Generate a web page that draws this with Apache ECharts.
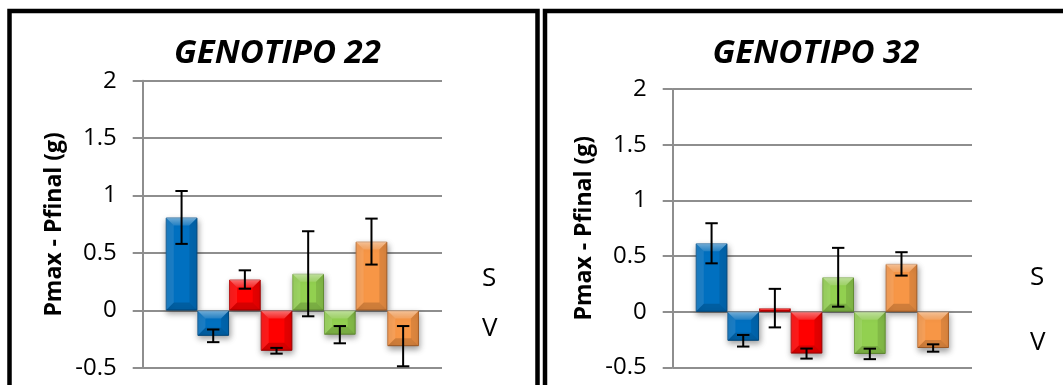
<!DOCTYPE html>
<html>
<head>
<meta charset="utf-8">
<script src="https://cdn.jsdelivr.net/npm/echarts@6/dist/echarts.min.js"></script>
<style>
  html, body { margin: 0; padding: 0; background: #fff; }
  #chart { width: 1063px; height: 385px; }
</style>
</head>
<body>
<div id="chart"></div>
<script>
// Weight loss (Pmax - Pfinal) per treatment, S and V bars side by side for each colour group
const panelTitles = ['GENOTIPO 22', 'GENOTIPO 32'];
const barNames = ['S', 'V', 'S', 'V', 'S', 'V', 'S', 'V'];
const legendNames = ['S', 'V'];

const g22Values = [0.81, -0.22, 0.27, -0.35, 0.32, -0.21, 0.60, -0.31];
const g22Errors = [0.23, 0.055, 0.08, 0.025, 0.37, 0.075, 0.20, 0.175];

const g32Values = [0.615, -0.26, 0.033, -0.375, 0.31, -0.378, 0.43, -0.325];
const g32Errors = [0.18, 0.052, 0.173, 0.045, 0.264, 0.047, 0.105, 0.033];

const yMin = -0.5, yMax = 2, yStep = 0.5;
const yAxisTitle = 'Pmax - Pfinal (g)';

// Office-style fills, one per pair of bars
const fills = ['#0070C0', '#FF0000', '#92D050', '#F79646'];
const edges = ['#00508c', '#b00000', '#6e9e38', '#b8692c'];

const FONT = '"Open Sans", "Noto Sans", sans-serif';
const CAT_GAP = 0.154;

const panels = [
  { values: g22Values, errors: g22Errors, grid: { left: 142.7, top: 80.7, width: 299.3, height: 287.3 },
    titleX: 272.5, legend: { left: 472, top: 259, gap: 20 } },
  { values: g32Values, errors: g32Errors, grid: { left: 672.7, top: 89, width: 299.3, height: 278.5 },
    titleX: 811, legend: { left: 1020, top: 258, gap: 35 } }
];

const chart = echarts.init(document.getElementById('chart'), null, { renderer: 'canvas' });

const grids = [], xAxes = [], yAxes = [], titles = [], legends = [], series = [];

panels.forEach((p, pi) => {
  grids.push(Object.assign({ containLabel: false }, p.grid));
  xAxes.push({ type: 'category', gridIndex: pi, data: [panelTitles[pi]], show: false });
  yAxes.push({
    type: 'value', gridIndex: pi, min: yMin, max: yMax, interval: yStep,
    name: yAxisTitle, nameLocation: 'middle', nameGap: 77, nameRotate: 90,
    nameTextStyle: { fontFamily: FONT, fontSize: 23, fontWeight: 'bold', color: '#000' },
    axisLine: { show: true, lineStyle: { color: '#8e8e8e', width: 2 } },
    axisTick: { show: true, inside: false, length: 10, lineStyle: { color: '#8e8e8e', width: 2 } },
    axisLabel: { margin: 26, fontFamily: FONT, fontSize: 24, color: '#000' },
    splitLine: { show: true, lineStyle: { color: '#8e8e8e', width: 2 } }
  });
  titles.push({
    text: panelTitles[pi], left: p.titleX, top: 32, textAlign: 'center',
    textStyle: { fontFamily: FONT, fontSize: 33, fontWeight: 'bold', fontStyle: 'italic', color: '#000' }
  });
  legends.push({
    data: legendNames, orient: 'vertical', left: p.legend.left, top: p.legend.top,
    icon: 'none', itemWidth: 0, itemHeight: 30, itemGap: p.legend.gap,
    textStyle: { fontFamily: FONT, fontSize: 26, color: '#000', lineHeight: 30 },
    selectedMode: false
  });

  p.values.forEach((v, i) => {
    series.push({
      type: 'bar', name: barNames[i], xAxisIndex: pi, yAxisIndex: pi,
      data: [v], barGap: '0%', barCategoryGap: (CAT_GAP * 100) + '%',
      itemStyle: {
        color: fills[i >> 1], borderColor: edges[i >> 1], borderWidth: 1,
        shadowColor: 'rgba(0,0,0,0.38)', shadowBlur: 6, shadowOffsetX: 1, shadowOffsetY: 3
      },
      emphasis: { disabled: true },
      z: 2
    });
  });

  // bevel shading and error bars, placed on the same band layout as the bars
  const count = p.values.length;
  series.push({
    type: 'custom', xAxisIndex: pi, yAxisIndex: pi, z: 5, silent: true,
    encode: { x: 0, y: 1 },
    data: p.values.map((v, i) => [0, v, p.errors[i], i]),
    renderItem: function (params, api) {
      const v = api.value(1), e = api.value(2), i = api.value(3);
      const center = api.coord([0, 0]);
      const band = api.size([1, 0])[0];
      const total = band * (1 - CAT_GAP);
      const bw = total / count;
      const x0 = center[0] - total / 2 + i * bw, x1 = x0 + bw;
      const yv = api.coord([0, v])[1], y0v = center[1];
      const top = Math.min(yv, y0v), bot = Math.max(yv, y0v);
      const b = Math.min(8, (bot - top) / 2, bw / 2);
      const cx = (x0 + x1) / 2;
      const yHi = api.coord([0, v + e])[1], yLo = api.coord([0, v - e])[1];
      const cap = 6.2;
      const lineStyle = { stroke: '#000', lineWidth: 2 };
      return {
        type: 'group',
        children: [
          { type: 'polygon', shape: { points: [[x0, top], [x1, top], [x1 - b, top + b], [x0 + b, top + b]] },
            style: { fill: new echarts.graphic.LinearGradient(0, 0, 0, 1, [
              { offset: 0, color: 'rgba(255,255,255,0.45)' }, { offset: 1, color: 'rgba(255,255,255,0.14)' }]) } },
          { type: 'polygon', shape: { points: [[x0, bot], [x1, bot], [x1 - b, bot - b], [x0 + b, bot - b]] },
            style: { fill: 'rgba(0,0,0,0.16)' } },
          { type: 'polygon', shape: { points: [[x0, top], [x0 + b, top + b], [x0 + b, bot - b], [x0, bot]] },
            style: { fill: 'rgba(255,255,255,0.10)' } },
          { type: 'polygon', shape: { points: [[x1, top], [x1 - b, top + b], [x1 - b, bot - b], [x1, bot]] },
            style: { fill: 'rgba(0,0,0,0.10)' } },
          { type: 'line', shape: { x1: cx, y1: yHi, x2: cx, y2: yLo }, style: lineStyle },
          { type: 'line', shape: { x1: cx - cap, y1: yHi, x2: cx + cap, y2: yHi }, style: lineStyle },
          { type: 'line', shape: { x1: cx - cap, y1: yLo, x2: cx + cap, y2: yLo }, style: lineStyle }
        ]
      };
    }
  });
});

chart.setOption({
  animation: false,
  backgroundColor: '#fff',
  title: titles,
  legend: legends,
  grid: grids,
  xAxis: xAxes,
  yAxis: yAxes,
  series: series,
  graphic: [
    { type: 'rect', shape: { x: 9.5, y: 11, width: 528, height: 420 },
      style: { fill: 'none', stroke: '#000', lineWidth: 4.5 }, z: 100, silent: true },
    { type: 'rect', shape: { x: 545, y: 11, width: 600, height: 420 },
      style: { fill: 'none', stroke: '#000', lineWidth: 4.5 }, z: 100, silent: true }
  ]
});
</script>
</body>
</html>
